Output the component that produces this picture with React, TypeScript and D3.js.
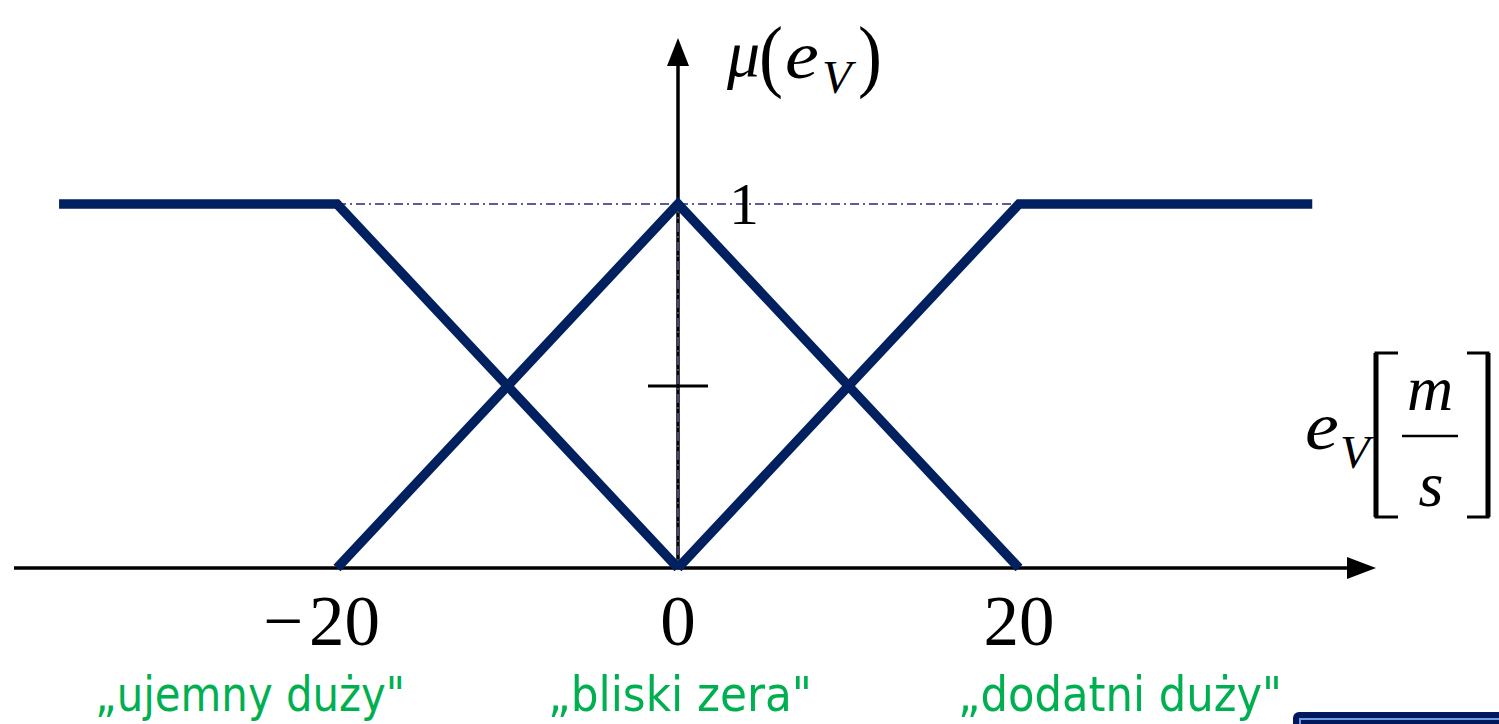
import React from "react";
import * as d3 from "d3";

// Membership functions of the velocity error e_V [m/s]
const ujemnyDuzy: [number, number][] = [[-36.3, 1], [-20, 1], [0, 0]];
const bliskiZera: [number, number][] = [[-20, 0], [0, 1], [20, 0]];
const dodatniDuzy: [number, number][] = [[0, 0], [20, 1], [37.2, 1]];
const series = [ujemnyDuzy, bliskiZera, dodatniDuzy];

const xTicks = [-20, 0, 20];
const termNames = ["\u201Eujemny duży\"", "\u201Ebliski zera\"", "\u201Edodatni duży\""];
const termCenters = [250, 680, 1120];
const termWidths = [310, 264, 324];

const W = 1499;
const H = 724;
const NAVY = "#002060";
const DASH = "#5b5b9e";
const GREEN = "#00b050";
const SERIF = "'Liberation Serif', 'Times New Roman', serif";

export default function App() {
  const x = d3.scaleLinear().domain([-20, 20]).range([337, 1019]);
  const y = d3.scaleLinear().domain([0, 1]).range([568, 204]);
  const line = d3
    .line<[number, number]>()
    .x((d) => x(d[0]))
    .y((d) => y(d[1]));

  const x0 = x(0);
  const axisY = y(0);

  const glyph = (
    t: string,
    gx: number,
    gy: number,
    size: number,
    italic: boolean,
    sx = 1
  ) => (
    <text
      transform={`translate(${gx},${gy}) scale(${sx},1)`}
      fontSize={size}
      fontStyle={italic ? "italic" : "normal"}
    >
      {t}
    </text>
  );

  return (
    <svg
      width={W}
      height={H}
      viewBox={`0 0 ${W} ${H}`}
      style={{ position: "absolute", left: 0, top: 0, display: "block", background: "#fff" }}
    >
      {/* reference line at membership 1 */}
      <line
        x1={x(-20)}
        x2={x(20)}
        y1={y(1)}
        y2={y(1)}
        stroke={DASH}
        strokeWidth={2}
        strokeDasharray="9,4,2,4"
      />

      {/* horizontal axis with arrow */}
      <line x1={14} x2={1350} y1={axisY} y2={axisY} stroke="#000" strokeWidth={3.5} />
      <path d={`M1376,${axisY} L1347,${axisY - 11} L1347,${axisY + 11} Z`} fill="#000" />

      {/* vertical axis with arrow */}
      <line x1={x0} x2={x0} y1={axisY} y2={62} stroke="#000" strokeWidth={3.5} />
      <path d={`M${x0},38 L${x0 - 11},66 L${x0 + 11},66 Z`} fill="#000" />
      <line
        x1={x0}
        x2={x0}
        y1={y(1)}
        y2={axisY}
        stroke={DASH}
        strokeWidth={1.5}
        strokeDasharray="9,4,2,4"
      />

      {/* tick at 0.5 */}
      <line x1={x0 - 30} x2={x0 + 30} y1={y(0.5)} y2={y(0.5)} stroke="#000" strokeWidth={3} />

      {/* membership functions */}
      {series.map((s, i) => (
        <path
          key={i}
          d={line(s) ?? ""}
          fill="none"
          stroke={NAVY}
          strokeWidth={9.5}
          strokeLinejoin="miter"
          strokeLinecap="butt"
        />
      ))}

      {/* value 1 on the vertical axis */}
      <text x={729} y={224} fontFamily={SERIF} fontSize={60} fill="#000">
        1
      </text>

      {/* tick labels */}
      {xTicks.map((v) => (
        <text
          key={v}
          x={v < 0 ? x(v) + 43 : x(v)}
          y={645}
          textAnchor={v < 0 ? "end" : "middle"}
          fontFamily={SERIF}
          fontSize={71}
          fill="#000"
        >
          {v < 0 ? "\u2212\u200A" + Math.abs(v) : String(v)}
        </text>
      ))}

      {/* linguistic term names */}
      {termNames.map((t, i) => (
        <text
          key={t}
          x={termCenters[i]}
          y={711}
          textAnchor="middle"
          fontFamily="'DejaVu Sans Condensed', 'DejaVu Sans', sans-serif"
          fontSize={48}
          fill={GREEN}
          textLength={termWidths[i]}
          lengthAdjust="spacingAndGlyphs"
        >
          {t}
        </text>
      ))}

      {/* vertical axis title: μ(e_V) */}
      <g fontFamily={SERIF} fill="#000">
        {glyph("μ", 727, 76, 66, true)}
        {glyph("(", 759, 82, 80, false, 0.9)}
        {glyph("e", 785, 78, 68, true, 1.12)}
        {glyph("V", 822, 93, 46, true, 1.05)}
        {glyph(")", 858, 82, 80, false, 0.9)}
      </g>

      {/* horizontal axis title: e_V [m/s] */}
      <g fontFamily={SERIF} fill="#000">
        {glyph("e", 1305, 449, 68, true, 1.12)}
        {glyph("V", 1340, 468, 46, true, 1.05)}
        <path d="M1398,353 L1376,353 L1376,517 L1398,517" fill="none" stroke="#000" strokeWidth={3} />
        <line x1={1376} x2={1376} y1={353} y2={517} stroke="#000" strokeWidth={5} />
        <text x={1430} y={410} fontSize={64} fontStyle="italic" textAnchor="middle">m</text>
        <line x1={1402} x2={1458} y1={436} y2={436} stroke="#000" strokeWidth={2.5} />
        <text x={1431} y={506} fontSize={64} fontStyle="italic" textAnchor="middle">s</text>
        <path d="M1467,353 L1488,353 L1488,517 L1467,517" fill="none" stroke="#000" strokeWidth={3} />
        <line x1={1488} x2={1488} y1={353} y2={517} stroke="#000" strokeWidth={5} />
      </g>

      {/* navigation button in the corner */}
      <rect x={1293} y={712} width={230} height={40} rx={6} fill="#02185c" />
      <rect x={1300} y={719} width={220} height={30} fill="none" stroke="#6f9be0" strokeWidth={2} />
    </svg>
  );
}
